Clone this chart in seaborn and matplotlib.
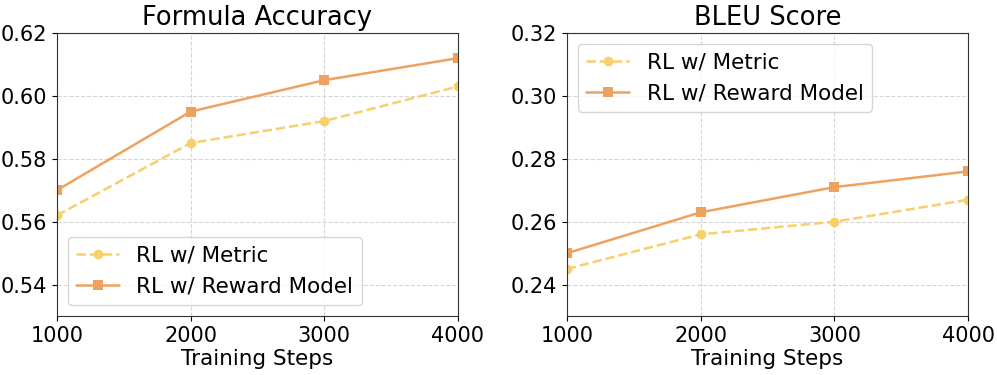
import matplotlib
matplotlib.use("Agg")
import matplotlib.pyplot as plt
import seaborn as sns
import pandas as pd

steps = [1000, 2000, 3000, 4000]
formula_metric = [0.562, 0.585, 0.592, 0.603]
formula_reward = [0.570, 0.595, 0.605, 0.612]
bleu_metric = [0.245, 0.256, 0.260, 0.267]
bleu_reward = [0.250, 0.263, 0.271, 0.276]
labels = ["RL w/ Metric", "RL w/ Reward Model"]
titles = ["Formula Accuracy", "BLEU Score"]

sns.set_style("ticks")
plt.rcParams['font.family'] = ['DejaVu Sans']
plt.rcParams['text.color'] = 'black'
plt.rcParams['axes.labelcolor'] = 'black'
plt.rcParams['xtick.color'] = 'black'
plt.rcParams['ytick.color'] = 'black'

c_metric = "#F7CF6B"
c_reward = "#EEA25F"

fig, axes = plt.subplots(1, 2, figsize=(9.97, 3.75), dpi=100)
fig.subplots_adjust(left=0.057, right=0.971, top=0.912, bottom=0.157, wspace=0.272)

panels = [
    (formula_metric, formula_reward, (0.53, 0.62), [0.54, 0.56, 0.58, 0.60, 0.62], "lower left"),
    (bleu_metric, bleu_reward, (0.23, 0.32), [0.24, 0.26, 0.28, 0.30, 0.32], "upper left"),
]

for ax, (m, r, ylim, yt, loc), title in zip(axes, panels, titles):
    df_m = pd.DataFrame({"step": steps, "val": m})
    df_r = pd.DataFrame({"step": steps, "val": r})
    sns.lineplot(data=df_m, x="step", y="val", ax=ax, color=c_metric, linestyle="--",
                 marker="o", markersize=7, markeredgewidth=0, linewidth=1.8, label=labels[0])
    sns.lineplot(data=df_r, x="step", y="val", ax=ax, color=c_reward, linestyle="-",
                 marker="s", markersize=7, markeredgewidth=0, linewidth=1.8, label=labels[1])
    ax.set_xlim(1000, 4000)
    ax.set_ylim(*ylim)
    ax.set_xticks(steps)
    ax.set_yticks(yt)
    ax.set_yticklabels([f"{v:.2f}" for v in yt])
    ax.tick_params(labelsize=15)
    ax.set_xlabel("Training Steps", fontsize=15.5, labelpad=2)
    ax.set_ylabel("")
    ax.set_title(title, fontsize=18.5)
    ax.grid(True, linestyle="--", color="#d6d6d6", linewidth=0.8)
    for s in ax.spines.values():
        s.set_visible(True)
        s.set_color("#333333")
    ax.legend(loc=loc, fontsize=15.5, frameon=True)

fig.savefig("out.png", dpi=100)
